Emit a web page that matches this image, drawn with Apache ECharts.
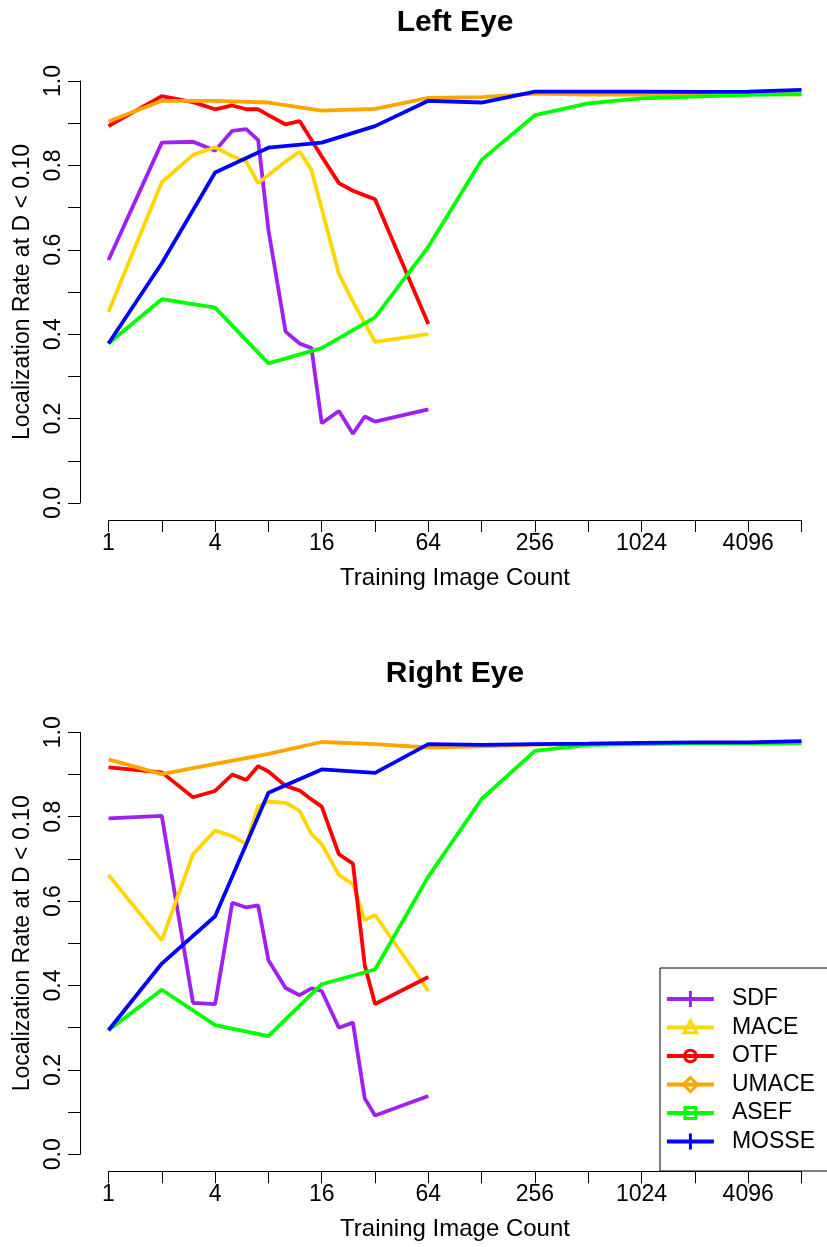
<!DOCTYPE html>
<html>
<head>
<meta charset="utf-8">
<script src="https://cdn.jsdelivr.net/npm/echarts@6/dist/echarts.min.js"></script>
<style>
  html, body { margin: 0; padding: 0; background: #fff; }
  #chart { width: 827px; height: 1247px; }
</style>
</head>
<body>
<div id="chart"></div>
<script>
// ---- Data ----
var panelTitles = ['Left Eye', 'Right Eye'];
var seriesNames = ['SDF', 'MACE', 'OTF', 'UMACE', 'ASEF', 'MOSSE'];
var seriesColors = ['#A020F0', '#FFD700', '#FF0000', '#FFA500', '#00FF00', '#0000FF'];
var xTickExponents = [0, 1, 2, 3, 4, 5, 6, 7, 8, 9, 10, 11, 12, 13];
var yTickLabels = ['0.0', '0.2', '0.4', '0.6', '0.8', '1.0'];

// training image counts
var denseX = [1, 2, 3, 4, 5, 6, 7, 8, 10, 12, 14, 16, 20, 24, 28, 32, 64];
var powX = [1, 2, 4, 8, 16, 32, 64, 128, 256, 512, 1024, 2048, 4096, 8192];

// Left eye
var leftSDF   = [0.576, 0.854, 0.856, 0.835, 0.882, 0.886, 0.860, 0.647, 0.406, 0.378, 0.367, 0.189, 0.218, 0.164, 0.205, 0.193, 0.222];
var leftMACE  = [0.453, 0.760, 0.825, 0.843, 0.822, 0.809, 0.758, 0.777, 0.809, 0.833, 0.789, 0.697, 0.543, 0.477, 0.426, 0.382, 0.400];
var leftOTF   = [0.893, 0.964, 0.950, 0.933, 0.942, 0.933, 0.933, 0.919, 0.897, 0.905, 0.860, 0.821, 0.758, 0.740, 0.729, 0.720, 0.424];
var leftUMACE = [0.904, 0.953, 0.953, 0.949, 0.930, 0.934, 0.960, 0.962, 0.970, 0.968, 0.968, 0.970, 0.970, 0.968];
var leftASEF  = [0.378, 0.483, 0.463, 0.331, 0.367, 0.440, 0.607, 0.813, 0.919, 0.947, 0.959, 0.963, 0.967, 0.969];
var leftMOSSE = [0.378, 0.568, 0.783, 0.842, 0.854, 0.893, 0.953, 0.949, 0.975, 0.975, 0.975, 0.974, 0.975, 0.979];

// Right eye
var rightSDF   = [0.796, 0.802, 0.359, 0.356, 0.596, 0.585, 0.590, 0.460, 0.394, 0.377, 0.393, 0.387, 0.300, 0.312, 0.132, 0.092, 0.138];
var rightMACE  = [0.662, 0.507, 0.711, 0.767, 0.754, 0.735, 0.825, 0.836, 0.833, 0.814, 0.759, 0.735, 0.662, 0.640, 0.555, 0.567, 0.387];
var rightOTF   = [0.917, 0.905, 0.846, 0.861, 0.900, 0.887, 0.920, 0.907, 0.873, 0.862, 0.841, 0.824, 0.711, 0.689, 0.448, 0.356, 0.420];
var rightUMACE = [0.936, 0.901, 0.925, 0.949, 0.977, 0.972, 0.964, 0.967, 0.971, 0.972, 0.974, 0.975, 0.974, 0.974];
var rightASEF  = [0.294, 0.390, 0.306, 0.280, 0.403, 0.438, 0.658, 0.842, 0.956, 0.970, 0.972, 0.974, 0.974, 0.975];
var rightMOSSE = [0.294, 0.452, 0.564, 0.857, 0.912, 0.904, 0.972, 0.970, 0.972, 0.973, 0.975, 0.976, 0.976, 0.979];

// ---- Build ----
var FONT = '"Liberation Sans", Arial, Helvetica, sans-serif';
// legend glyphs (R pch 3, 2, 1, 5, 0, 3), drawn as stroked outlines in a 10x10 box
var BOX = 'M0,0 M10,10 ';
var PLUS = 'path://' + BOX + 'M5,0.4 L5,9.6 M1.0,5 L9.0,5';
var TRI = 'path://' + BOX + 'M5,1.2 L8.6,8.0 L1.4,8.0 Z';
var CIRC = 'path://' + BOX + 'M1.7,5 A3.3,3.3 0 1,1 8.3,5 A3.3,3.3 0 1,1 1.7,5 Z';
var DIAM = 'path://' + BOX + 'M5,1.0 L9.0,5 L5,9.0 L1.0,5 Z';
var SQR = 'path://' + BOX + 'M1.9,1.9 L8.1,1.9 L8.1,8.1 L1.9,8.1 Z';
var symbols = [PLUS, TRI, CIRC, DIAM, SQR, PLUS];

var panels = [
  { xs: [denseX, denseX, denseX, powX, powX, powX],
    ys: [leftSDF, leftMACE, leftOTF, leftUMACE, leftASEF, leftMOSSE] },
  { xs: [denseX, denseX, denseX, powX, powX, powX],
    ys: [rightSDF, rightMACE, rightOTF, rightUMACE, rightASEF, rightMOSSE] }
];

function pairs(xs, ys) {
  return xs.map(function (x, i) { return [Math.log2(x), ys[i]]; });
}

var gridTops = [81, 732.3];
var gridHeight = 422;
var LW = 3.8;
var series = [];
panels.forEach(function (p, pi) {
  seriesNames.forEach(function (name, si) {
    series.push({
      type: 'line',
      name: name,
      xAxisIndex: pi,
      yAxisIndex: pi,
      data: pairs(p.xs[si], p.ys[si]),
      symbol: symbols[si],
      showSymbol: false,
      clip: false,
      silent: true,
      color: seriesColors[si],
      lineStyle: { width: LW, color: seriesColors[si] },
      itemStyle: { color: seriesColors[si] },
      emphasis: { disabled: true },
      animation: false
    });
  });
});

function xAxis(gi) {
  return {
    type: 'value', gridIndex: gi, min: 0, max: 13, interval: 1,
    offset: 17,
    axisLine: { show: true, onZero: false, lineStyle: { color: '#000', width: 1 } },
    axisTick: { show: true, length: 12, lineStyle: { color: '#000', width: 1 } },
    splitLine: { show: false },
    axisLabel: {
      color: '#000', fontSize: 23, fontFamily: FONT, margin: 12,
      formatter: function (v) {
        var e = Math.round(v);
        return (xTickExponents.indexOf(e) >= 0 && e % 2 === 0) ? String(Math.pow(2, e)) : '';
      }
    },
    name: 'Training Image Count', nameLocation: 'middle', nameGap: 46,
    nameTextStyle: { color: '#000', fontSize: 24, fontFamily: FONT }
  };
}
function yAxis(gi) {
  return {
    type: 'value', gridIndex: gi, min: 0, max: 1, interval: 0.1,
    offset: 28.5,
    axisLine: { show: true, onZero: false, lineStyle: { color: '#000', width: 1 } },
    axisTick: { show: true, length: 12, lineStyle: { color: '#000', width: 1 } },
    splitLine: { show: false },
    axisLabel: {
      color: '#000', fontSize: 23, fontFamily: FONT, margin: 15, rotate: 90,
      formatter: function (v) {
        var k = Math.round(v * 10);
        return k % 2 === 0 ? yTickLabels[k / 2] : '';
      }
    },
    name: 'Localization Rate at D < 0.10', nameLocation: 'middle', nameGap: 35, nameRotate: 90,
    nameTextStyle: { color: '#000', fontSize: 23, fontFamily: FONT }
  };
}

var option = {
  backgroundColor: '#fff',
  animation: false,
  title: panelTitles.map(function (t, i) {
    return {
      text: t, left: 455, top: i === 0 ? 8 : 659, textAlign: 'center', padding: 0,
      textStyle: { color: '#000', fontSize: 30, fontWeight: 'bold', fontFamily: FONT }
    };
  }),
  grid: gridTops.map(function (t) {
    return { left: 108.5, top: t, width: 693, height: gridHeight, containLabel: false };
  }),
  xAxis: [xAxis(0), xAxis(1)],
  yAxis: [yAxis(0), yAxis(1)],
  legend: {
    data: seriesNames.map(function (n, i) {
      return {
        name: n,
        itemStyle: { color: 'rgba(0,0,0,0)', borderColor: seriesColors[i], borderWidth: 3 },
        lineStyle: { color: seriesColors[i], width: LW }
      };
    }),
    orient: 'vertical',
    left: 660, top: 968,
    padding: [19.5, 90, 18, 5],
    itemWidth: 47, itemHeight: 22, itemGap: 5.5,
    backgroundColor: '#fff',
    borderColor: '#000', borderWidth: 1, borderRadius: 0,
    selectedMode: false,
    textStyle: { color: '#000', fontSize: 23, fontFamily: FONT, lineHeight: 23, padding: [0, 0, 0, 13] }
  },
  series: series
};

var chart = echarts.init(document.getElementById('chart'), null, { renderer: 'canvas', width: 827, height: 1247 });
chart.setOption(option);
</script>
</body>
</html>
